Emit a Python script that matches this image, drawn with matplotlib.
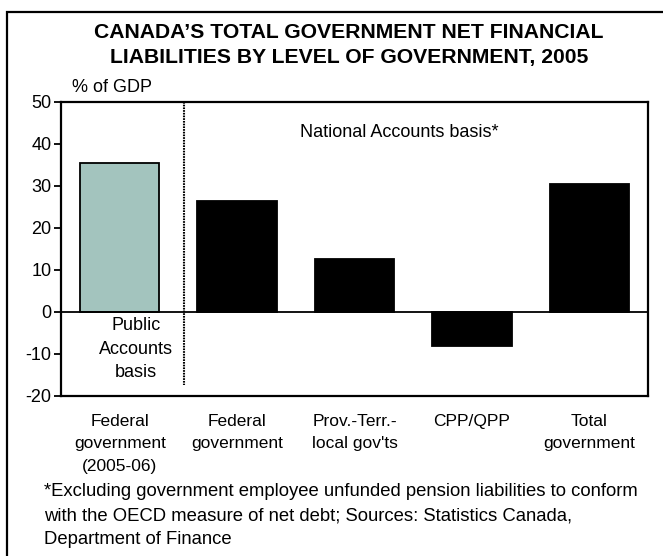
import matplotlib
matplotlib.use("Agg")
import matplotlib.pyplot as plt
from matplotlib.patches import Rectangle

plt.rcParams['font.family'] = ['Liberation Sans', 'DejaVu Sans']

categories = ["Federal\ngovernment\n(2005-06)", "Federal\ngovernment",
              "Prov.-Terr.-\nlocal gov'ts", "CPP/QPP", "Total\ngovernment"]
values = [35.5, 26.5, 12.7, -8.1, 30.4]
bar_colors = ["#a3c4be", "black", "black", "black", "black"]
yticks = [-20, -10, 0, 10, 20, 30, 40, 50]
footnote = ["*Excluding government employee unfunded pension liabilities to conform",
            "with the OECD measure of net debt; Sources: Statistics Canada,",
            "Department of Finance"]

W, H = 663, 556
fig = plt.figure(figsize=(W / 100, H / 100), dpi=100)

# outer frame
fig.add_artist(Rectangle((7 / W, -0.1), 1.2, 1.1 - 11.7 / H,
                         transform=fig.transFigure, fill=False,
                         edgecolor="black", linewidth=1.6))

ax = fig.add_axes([61 / W, 1 - 396 / H, (648 - 61) / W, (396 - 101.7) / H])
x = list(range(len(categories)))
ax.bar(x, values, width=0.675, color=bar_colors, edgecolor="black", linewidth=1.3, zorder=2)
ax.axhline(0, color="black", linewidth=1.3, zorder=3)
ax.set_xlim(-0.5, len(categories) - 0.5)
ax.set_ylim(-20, 50)
ax.set_yticks(yticks)
ax.set_yticklabels([str(v) for v in yticks], fontsize=13)
ax.set_xticks(x)
ax.set_xticklabels(categories, fontsize=12.5, linespacing=1.62, va="top")
ax.tick_params(axis="x", length=0, pad=13)
ax.tick_params(axis="y", length=5, width=1.3, direction="out", pad=2)
for s in ax.spines.values():
    s.set_linewidth(1.6)

# divider between the two accounting bases
ax.plot([0.548, 0.548], [50, -17.3], color="black", linestyle=(0, (0.8, 0.5)), linewidth=1.5, zorder=3)

ax.text(2.38, 42.6, "National Accounts basis*", ha="center", va="center", fontsize=13)
ax.text(0.14, -8.9, "Public\nAccounts\nbasis", ha="center", va="center", fontsize=13, linespacing=1.5)

fig.text(349 / W, 1 - 32 / H, "CANADA\u2019S TOTAL GOVERNMENT NET FINANCIAL",
         ha="center", va="center", fontsize=15.2, fontweight="bold")
fig.text(349 / W, 1 - 58 / H, "LIABILITIES BY LEVEL OF GOVERNMENT, 2005",
         ha="center", va="center", fontsize=15.2, fontweight="bold")
fig.text(72 / W, 1 - 88 / H, "% of GDP", ha="left", va="center", fontsize=13)

for i, line in enumerate(footnote):
    fig.text(44 / W, 1 - (492 + 24 * i) / H, line, ha="left", va="center", fontsize=13.3)

fig.savefig("out.png", dpi=100)
